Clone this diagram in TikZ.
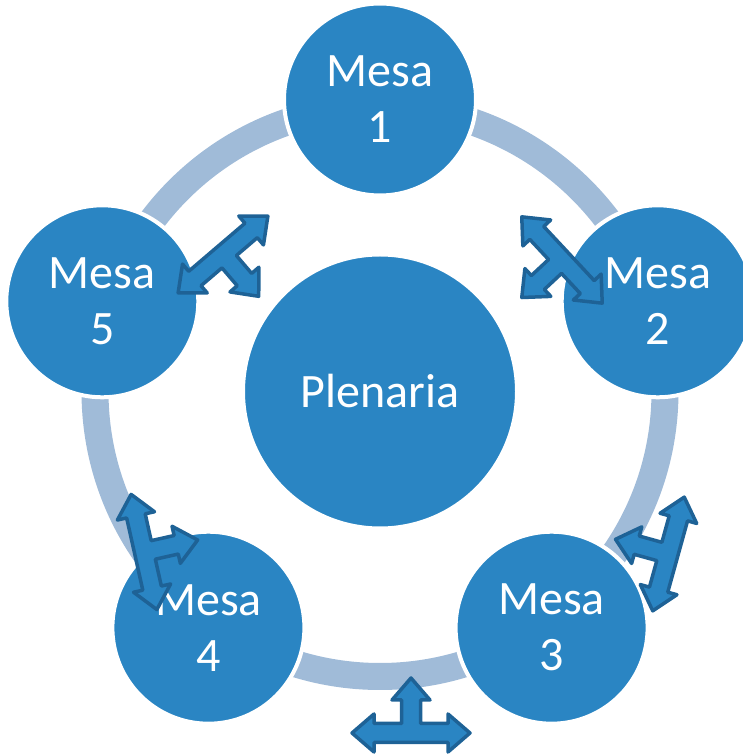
\documentclass[tikz,border=0pt]{standalone}
\usepackage{fontspec}
\setmainfont{Carlito}
\definecolor{mesablue}{RGB}{42,133,195}
\definecolor{ringblue}{RGB}{160,187,216}
\definecolor{edgeblue}{RGB}{30,98,150}
\tikzset{
  mesa/.style={circle, fill=mesablue, draw=white, line width=4pt, minimum size=192pt,
    inner sep=0pt, text=white, align=center, font=\fontsize{48}{56}\selectfont},
  ring/.style={draw=ringblue, line width=27pt},
  arrowshape/.style={fill=mesablue, draw=edgeblue, line width=3.5pt, line join=round},
  pics/triarrow/.style={code={
    \draw[arrowshape] (59,0) -- (37,19) -- (37,9.5) -- (9.5,9.5) -- (9.5,33) -- (19,33) -- (0,55)
      -- (-19,33) -- (-9.5,33) -- (-9.5,9.5) -- (-37,9.5) -- (-37,19) -- (-59,0) -- (-37,-19)
      -- (-37,-9.5) -- (37,-9.5) -- (37,-19) -- cycle;
  }}
}
\begin{document}
\begin{tikzpicture}[x=1pt,y=1pt]
\useasboundingbox (0,0) rectangle (743,756);
% ring
\coordinate (O) at (380,364.5);
\draw[ring] (O) circle (285);

% nodes
\node[mesa, minimum size=274pt] (P) at (O) {Plenaria};
\node[mesa] (M1) at (380,656.5) {Mesa\\1};
\node[mesa] (M2) at (657.7,454.7) {Mesa\\2};
\node[mesa] (M3) at (551.6,128.3) {Mesa\\3};
\node[mesa] (M4) at (208.4,128.3) {Mesa\\4};
\node[mesa] (M5) at (102.3,454.7) {Mesa\\5};

% arrows
\pic[rotate=220.5] at (223,501.5) {triarrow};
\pic[rotate=133] at (562,496) {triarrow};
\pic[rotate=74.5] at (668.5,202) {triarrow};
\pic[rotate=282.6] at (144,204) {triarrow};
\pic at (411,23) {triarrow};

\end{tikzpicture}
\end{document}
